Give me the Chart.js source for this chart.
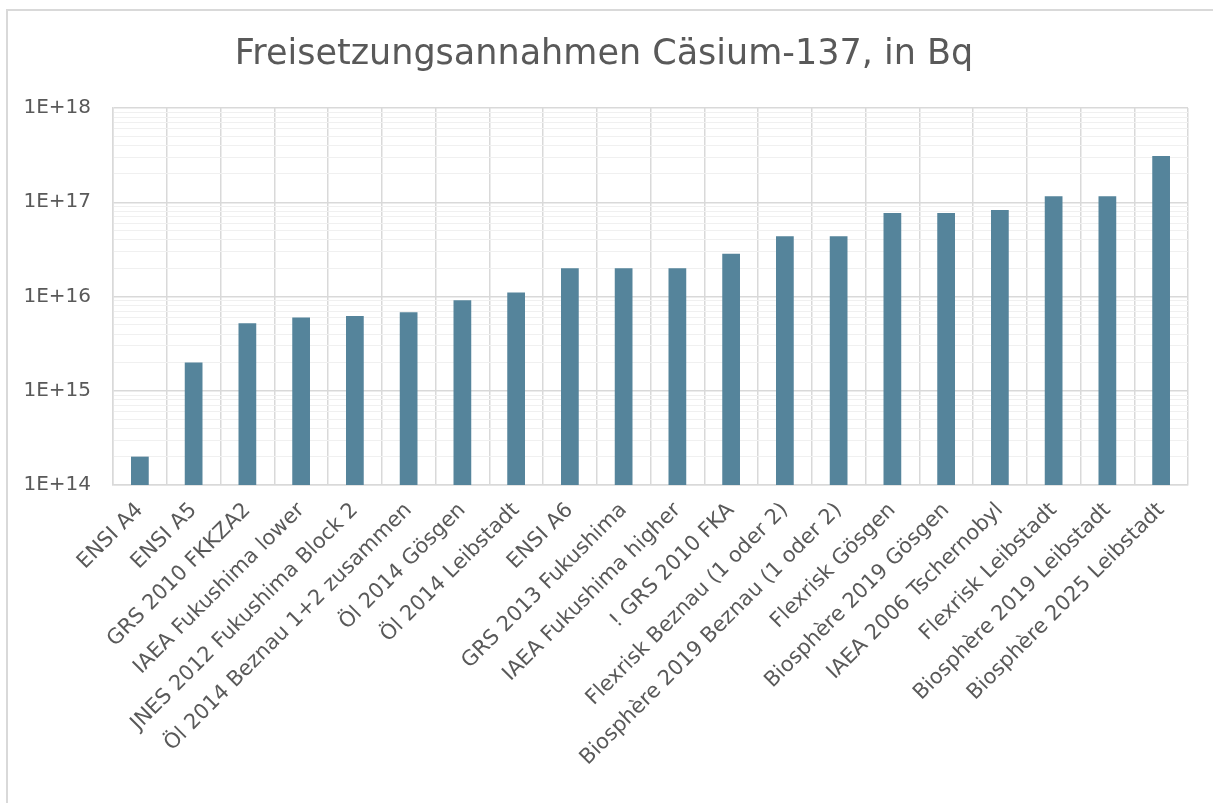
<!DOCTYPE html>
<html>
<head>
<meta charset="utf-8">
<script src="https://cdn.jsdelivr.net/npm/chart.js@4"></script>
<style>
  html, body { margin: 0; padding: 0; background: #fff; }
  canvas { display: block; }
</style>
</head>
<body>
<canvas id="chart" width="1213" height="803"></canvas>
<script>
// Kategorien (Quellen)
const categories = [
    'ENSI A4',
    'ENSI A5',
    'GRS 2010 FKKZA2',
    'IAEA Fukushima lower',
    'JNES 2012 Fukushima Block 2',
    'Öl 2014 Beznau 1+2 zusammen',
    'Öl 2014 Gösgen',
    'Öl 2014 Leibstadt',
    'ENSI A6',
    'GRS 2013 Fukushima',
    'IAEA Fukushima higher',
    '! GRS 2010 FKA',
    'Flexrisk Beznau (1 oder 2)',
    'Biosphère 2019 Beznau (1 oder 2)',
    'Flexrisk Gösgen',
    'Biosphère 2019 Gösgen',
    'IAEA 2006 Tschernobyl',
    'Flexrisk Leibstadt',
    'Biosphère 2019 Leibstadt',
    'Biosphère 2025 Leibstadt'
];

// Freisetzung Cs-137 in Bq
const releaseValues = [
    2e14, 2e15, 5.2e15, 6e15, 6.2e15, 6.8e15, 9.1e15, 1.1e16,
    2e16, 2e16, 2e16, 2.85e16, 4.35e16, 4.35e16, 7.7e16, 7.7e16,
    8.3e16, 1.16e17, 1.16e17, 3.1e17
];

// Achsenbeschriftung (Dekaden)
const decadeExps = [14, 15, 16, 17, 18];
const yTickLabels = ['1E+14', '1E+15', '1E+16', '1E+17', '1E+18'];
const minorSteps = [2, 3, 4, 5, 6, 7, 8, 9];

const textColor = '#595959';
const fontFamily = '"DejaVu Sans", sans-serif';

// Rahmen um das Diagramm
const framePlugin = {
    id: 'frame',
    beforeDraw(chart) {
        const ctx = chart.ctx;
        ctx.save();
        ctx.fillStyle = '#fff';
        ctx.fillRect(0, 0, chart.width, chart.height);
        ctx.strokeStyle = '#d9d9d9';
        ctx.lineWidth = 2;
        ctx.beginPath();
        ctx.moveTo(7, chart.height);
        ctx.lineTo(7, 10);
        ctx.lineTo(chart.width, 10);
        ctx.stroke();
        ctx.restore();
    }
};

function isDecade(value) {
    const e = Math.log10(value);
    return Math.abs(e - Math.round(e)) < 1e-9;
}

const ctx = document.getElementById('chart').getContext('2d');
new Chart(ctx, {
    type: 'bar',
    data: {
        labels: categories,
        datasets: [{
            label: 'Cäsium-137',
            data: releaseValues,
            backgroundColor: '#55849b',
            borderWidth: 0,
            barPercentage: 0.33,
            categoryPercentage: 1
        }]
    },
    options: {
        responsive: false,
        animation: false,
        layout: {
            padding: { left: 20, right: 25, top: 0, bottom: 0 }
        },
        scales: {
            x: {
                grid: {
                    color: '#d9d9d9',
                    lineWidth: 1.5,
                    drawTicks: false,
                    offset: true
                },
                border: { color: '#d9d9d9', width: 1.5 },
                ticks: {
                    color: textColor,
                    font: { family: fontFamily, size: 21 },
                    maxRotation: 45,
                    minRotation: 45,
                    autoSkip: false,
                    padding: 13
                },
                afterFit(scale) {
                    scale.height = 803 - 485;
                }
            },
            y: {
                type: 'logarithmic',
                min: 1e14,
                max: 1e18,
                afterBuildTicks(scale) {
                    const ticks = [];
                    decadeExps.forEach((exp, i) => {
                        ticks.push({ value: Math.pow(10, exp), major: true });
                        if (i < decadeExps.length - 1) {
                            minorSteps.forEach(s => ticks.push({ value: s * Math.pow(10, exp), major: false }));
                        }
                    });
                    scale.ticks = ticks;
                },
                grid: {
                    drawTicks: false,
                    color: (c) => (c.tick && isDecade(c.tick.value)) ? '#d9d9d9' : '#f0f0f0',
                    lineWidth: (c) => (c.tick && isDecade(c.tick.value)) ? 1.5 : 1
                },
                border: { color: '#d9d9d9', width: 1.5 },
                ticks: {
                    color: textColor,
                    font: { family: fontFamily, size: 20 },
                    autoSkip: false,
                    padding: 22,
                    callback: function(value) {
                        if (!isDecade(value)) return '';
                        const idx = decadeExps.indexOf(Math.round(Math.log10(value)));
                        return idx >= 0 ? yTickLabels[idx] : '';
                    }
                },
                afterFit(scale) {
                    scale.width = 113 - 20;
                }
            }
        },
        plugins: {
            legend: { display: false },
            tooltip: { enabled: false },
            title: {
                display: true,
                text: 'Freisetzungsannahmen Cäsium-137, in Bq',
                color: textColor,
                font: { family: fontFamily, size: 35, weight: 'normal' },
                padding: { top: 34, bottom: 32 }
            }
        }
    },
    plugins: [framePlugin]
});
</script>
</body>
</html>
